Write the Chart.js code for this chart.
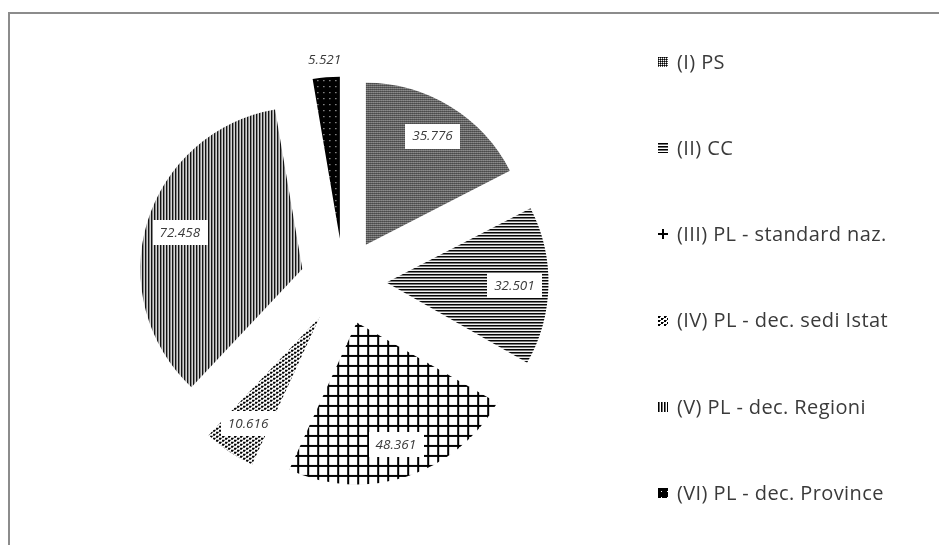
<!DOCTYPE html>
<html>
<head>
<meta charset="utf-8">
<script src="https://cdn.jsdelivr.net/npm/chart.js@4.4.1/dist/chart.umd.min.js"></script>
<style>
  html, body { margin: 0; padding: 0; background: #fff; }
  #wrap { position: relative; width: 939px; height: 545px; overflow: hidden; }
  #frame {
    position: absolute; left: 8px; top: 12px; width: 960px; height: 560px;
    border-top: 2px solid #8c8c8c; border-left: 2px solid #8c8c8c;
  }
  #chart { position: absolute; left: 0; top: 0; }
</style>
</head>
<body>
<div id="wrap">
  <div id="frame"></div>
  <canvas id="chart" width="939" height="545"></canvas>
</div>
<script>
const categories = [
  "(I) PS",
  "(II) CC",
  "(III) PL - standard naz.",
  "(IV) PL - dec. sedi Istat",
  "(V) PL - dec. Regioni",
  "(VI) PL - dec. Province",
];
const values = [35776, 32501, 48361, 10616, 72458, 5521];

const EXPLODE = 43;
const TEXT = "#3a3a3a";

// small tiled fills, one per slice
const makePattern = (w, h, paint) => {
  const c = document.createElement("canvas");
  c.width = w;
  c.height = h;
  const g = c.getContext("2d");
  g.fillStyle = "#fff";
  g.fillRect(0, 0, w, h);
  paint(g);
  return document.createElement("canvas").getContext("2d").createPattern(c, "repeat");
};

const patterns = [
  // dark dither: black dots, grey lines, white holes
  makePattern(4, 4, (g) => {
    g.fillStyle = "#555";
    g.fillRect(0, 0, 4, 4);
    g.fillStyle = "#000";
    g.fillRect(0, 0, 1, 1);
    g.fillRect(2, 0, 1, 1);
    g.fillRect(0, 2, 1, 1);
    g.fillRect(2, 2, 1, 1);
    g.fillStyle = "#fff";
    g.fillRect(1, 1, 1, 1);
    g.fillRect(3, 1, 1, 1);
    g.fillRect(1, 3, 1, 1);
    g.fillRect(3, 3, 1, 1);
  }),
  // horizontal lines
  makePattern(1, 3, (g) => {
    g.fillStyle = "#000";
    g.fillRect(0, 0, 1, 1);
    g.fillStyle = "#707070";
    g.fillRect(0, 1, 1, 1);
  }),
  // grid
  makePattern(10, 10, (g) => {
    g.fillStyle = "#000";
    g.fillRect(4, 0, 2, 10);
    g.fillRect(0, 4, 10, 2);
  }),
  // staggered dots
  makePattern(6, 4, (g) => {
    g.fillStyle = "#000";
    g.fillRect(0, 0, 2, 2);
    g.fillRect(3, 2, 2, 2);
    g.fillStyle = "#444";
    g.fillRect(2, 0, 1, 1);
    g.fillRect(5, 2, 1, 1);
  }),
  // vertical lines
  makePattern(3, 1, (g) => {
    g.fillStyle = "#000";
    g.fillRect(0, 0, 1, 1);
    g.fillStyle = "#707070";
    g.fillRect(1, 0, 1, 1);
  }),
  // black with white dots
  makePattern(6, 6, (g) => {
    g.fillStyle = "#000";
    g.fillRect(0, 0, 6, 6);
    g.fillStyle = "#fff";
    g.fillRect(3, 3, 1, 1);
  }),
];

const fmt = (v) => String(v).replace(/\B(?=(\d{3})+(?!\d))/g, ".");

// every slice pushed out from the centre along its mid angle
const explodePlugin = {
  id: "explode",
  beforeDatasetDraw(chart, args) {
    const ctx = chart.ctx;
    args.meta.data.forEach((arc) => {
      const mid = (arc.startAngle + arc.endAngle) / 2;
      ctx.save();
      ctx.translate(Math.cos(mid) * EXPLODE, Math.sin(mid) * EXPLODE);
      arc.draw(ctx, chart.chartArea);
      ctx.restore();
    });
    return false;
  },
};

// value labels: white box inside the slice, plain text outside for thin ones
const valueLabels = {
  id: "valueLabels",
  afterDatasetsDraw(chart) {
    const ctx = chart.ctx;
    const meta = chart.getDatasetMeta(0);
    ctx.save();
    ctx.font = 'italic 13.5px "Open Sans"';
    ctx.textAlign = "center";
    ctx.textBaseline = "middle";
    meta.data.forEach((arc, i) => {
      const mid = (arc.startAngle + arc.endAngle) / 2;
      const outside = arc.endAngle - arc.startAngle < 0.2;
      const r = outside ? arc.outerRadius + 61 : EXPLODE + arc.outerRadius * 0.79;
      const x = arc.x + Math.cos(mid) * r;
      const y = arc.y + Math.sin(mid) * r;
      const text = fmt(values[i]);
      const w = ctx.measureText(text).width;
      if (!outside) {
        ctx.fillStyle = "#fff";
        ctx.fillRect(Math.round(x - w / 2 - 7), Math.round(y - 12), Math.round(w + 14), 25);
      }
      ctx.fillStyle = TEXT;
      ctx.fillText(text, x, y + 1);
    });
    ctx.restore();
  },
};

// legend column on the right
const sideLegend = {
  id: "sideLegend",
  afterDraw(chart, args, opts) {
    const ctx = chart.ctx;
    ctx.save();
    ctx.font = '20px "Open Sans"';
    ctx.letterSpacing = "0.4px";
    ctx.textBaseline = "middle";
    categories.forEach((name, i) => {
      const y = opts.top + i * opts.step;
      const bx = opts.x;
      const by = Math.round(y - opts.box / 2);
      ctx.save();
      ctx.translate(bx, by);
      ctx.fillStyle = patterns[i];
      ctx.fillRect(0, 0, opts.box, opts.box);
      ctx.restore();
      ctx.fillStyle = TEXT;
      ctx.fillText(name, bx + opts.box + 9, y + 1);
    });
    ctx.restore();
  },
};

new Chart(document.getElementById("chart"), {
  type: "pie",
  data: {
    labels: categories,
    datasets: [
      {
        data: values,
        backgroundColor: patterns,
        borderWidth: 0,
        radius: 162,
      },
    ],
  },
  options: {
    responsive: false,
    animation: false,
    layout: { padding: { left: 0, right: 252, top: 18, bottom: 0 } },
    plugins: {
      legend: { display: false },
      tooltip: { enabled: false },
      sideLegend: { x: 658, top: 62, step: 86.2, box: 10 },
    },
  },
  plugins: [explodePlugin, valueLabels, sideLegend],
});
</script>
</body>
</html>
